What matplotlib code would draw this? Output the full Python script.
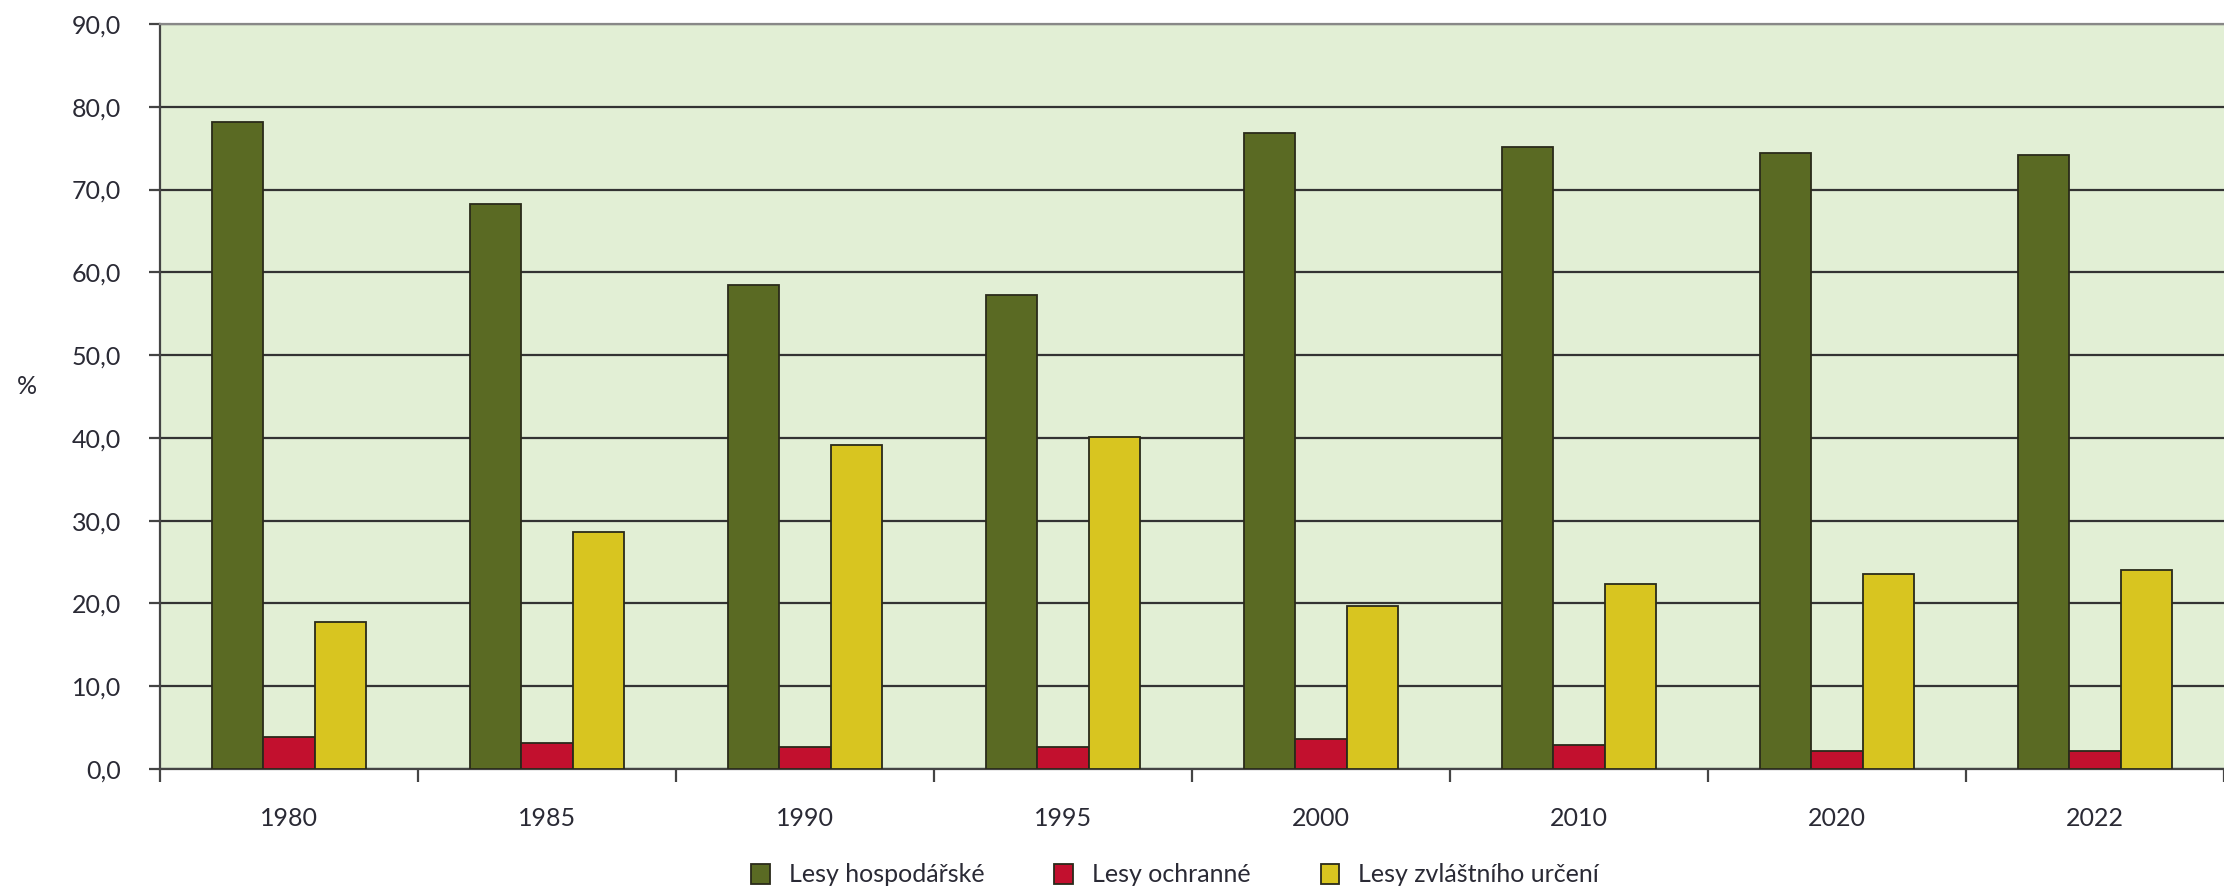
import matplotlib
matplotlib.use("Agg")
import matplotlib.pyplot as plt
import numpy as np
from matplotlib.ticker import FixedLocator

years = ["1980", "1985", "1990", "1995", "2000", "2010", "2020", "2022"]
hospodarske = [78.2, 68.2, 58.5, 57.3, 76.8, 75.1, 74.4, 74.2]
ochranne = [3.9, 3.1, 2.6, 2.7, 3.6, 2.9, 2.2, 2.2]
zvlastni = [17.8, 28.6, 39.1, 40.1, 19.7, 22.3, 23.6, 24.1]
series_names = ["Lesy hospodářské", "Lesy ochranné", "Lesy zvláštního určení"]
colors = ["#5a6a23", "#c2102e", "#d8c520"]
yticks = [0, 10, 20, 30, 40, 50, 60, 70, 80, 90]

plt.rcParams['font.family'] = ['Lato', 'DejaVu Sans']

fig = plt.figure(figsize=(22.24, 8.92), dpi=100)
W, H = 2224, 892
left, right, top, bottom = 160, 2224, 24, 769
ax = fig.add_axes([left / W, 1 - bottom / H, (right - left) / W, (bottom - top) / H])
ax.set_facecolor("#e2efd5")

x = np.arange(len(years))
bw = 0.198
for i, (vals, name, c) in enumerate(zip([hospodarske, ochranne, zvlastni], series_names, colors)):
    ax.bar(x + (i - 1) * bw, vals, width=bw, color=c, edgecolor="#2a2a1a",
           linewidth=1.3, label=name, zorder=3)

ax.set_xlim(-0.5, len(years) - 0.5)
ax.set_ylim(0, 90)
ax.set_yticks(yticks)
ax.set_yticklabels([f"{v:.1f}".replace(".", ",") for v in yticks])
ax.yaxis.grid(True, color="#333333", linewidth=1.6, zorder=1)
ax.set_axisbelow(True)

# major ticks at category boundaries, minor (label) ticks at centres
ax.xaxis.set_major_locator(FixedLocator(np.arange(-0.5, len(years), 1.0)))
ax.xaxis.set_major_formatter(plt.NullFormatter())
ax.xaxis.set_minor_locator(FixedLocator(x))
ax.set_xticklabels(years, minor=True)
ax.tick_params(axis="x", which="major", length=9, width=1.6, color="#444444", direction="out")
ax.tick_params(axis="x", which="minor", length=0, pad=27, labelsize=18, labelcolor="#2a2a35")
ax.tick_params(axis="y", length=8, width=1.6, color="#444444", pad=20, labelsize=18,
               labelcolor="#2a2a35")

for s in ["left", "bottom"]:
    ax.spines[s].set_color("#444444")
    ax.spines[s].set_linewidth(1.6)
ax.spines["right"].set_visible(False)
ax.spines["top"].set_color("#888888")
ax.spines["top"].set_linewidth(1.6)

fig.text(27 / W, 1 - 386 / H, "%", fontsize=18, color="#2a2a35", ha="center", va="center")

leg = ax.legend(loc="center", bbox_to_anchor=(0.4918, (bottom - 875) / (bottom - top)),
                ncol=3, frameon=False, fontsize=18, handlelength=0.75, handleheight=0.85,
                columnspacing=2.8, handletextpad=0.75, labelcolor="#2a2a35")

fig.savefig("out.png", dpi=100)
